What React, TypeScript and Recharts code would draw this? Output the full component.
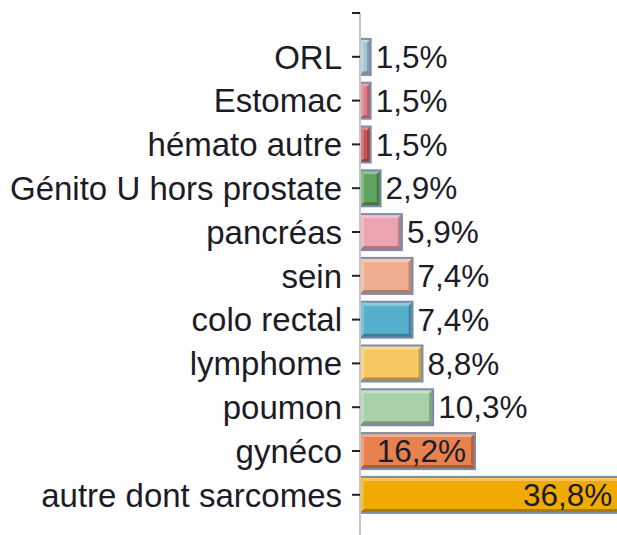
import React from 'react';
import { BarChart, Bar, XAxis, YAxis, Cell, LabelList } from 'recharts';

const categories = [
  'ORL',
  'Estomac',
  'hémato autre',
  'Génito U hors prostate',
  'pancréas',
  'sein',
  'colo rectal',
  'lymphome',
  'poumon',
  'gynéco',
  'autre dont sarcomes',
];
const shares = [1.5, 1.5, 1.5, 2.9, 5.9, 7.4, 7.4, 8.8, 10.3, 16.2, 36.8];
const barColors = [
  '#a3c6d6',
  '#e07c84',
  '#c95454',
  '#5ea35e',
  '#eca4b0',
  '#efae91',
  '#56afcc',
  '#f6c862',
  '#a9d1a9',
  '#e9814f',
  '#f0aa00',
];

// empty first row: the axis carries a tick above ORL
const data = [
  { name: '', value: null as number | null },
  ...categories.map((name, i) => ({ name, value: shares[i] })),
];

const FONT = '"Liberation Sans", Arial, sans-serif';

function BevelBar(props: any) {
  const { x, y, width, height, fill } = props;
  if (!width || width <= 0 || !height) return null;
  const b = Math.min(4, width / 3);
  return (
    <g>
      <rect x={x} y={y} width={width} height={height} fill={fill} />
      <polygon
        points={`${x},${y} ${x + width},${y} ${x + width - b},${y + b} ${x + b},${y + b}`}
        fill="#fff"
        fillOpacity={0.35}
      />
      <polygon
        points={`${x},${y} ${x + b},${y + b} ${x + b},${y + height - b} ${x},${y + height}`}
        fill="#fff"
        fillOpacity={0.25}
      />
      <polygon
        points={`${x},${y + height} ${x + b},${y + height - b} ${x + width - b},${y + height - b} ${x + width},${y + height}`}
        fill="#000"
        fillOpacity={0.28}
      />
      <polygon
        points={`${x + width},${y} ${x + width},${y + height} ${x + width - b},${y + height - b} ${x + width - b},${y + b}`}
        fill="#000"
        fillOpacity={0.22}
      />
      <rect x={x} y={y} width={width} height={height} fill="none" stroke="#7d8ca8" strokeWidth={2} />
    </g>
  );
}

function ValueLabel(props: any) {
  const { x, y, width, height, value } = props;
  if (value == null) return null;
  const inside = value >= 15;
  const text = value.toFixed(1).replace('.', ',') + '%';
  return (
    <text
      x={inside ? x + width - 9 : x + width + 5}
      y={y + height / 2}
      textAnchor={inside ? 'end' : 'start'}
      dominantBaseline="central"
      fontFamily={FONT}
      fontSize={31.5}
      fill="#1c1c28"
    >
      {text}
    </text>
  );
}

export default function App() {
  return (
    <div style={{ width: 617, height: 535, overflow: 'hidden', background: '#fff' }}>
      <style>{`body{margin:0}`}</style>
      <BarChart
        width={644}
        height={535}
        data={data}
        layout="vertical"
        margin={{ top: 13, right: 0, bottom: 0, left: 0 }}
      >
        <XAxis type="number" domain={[0, 40]} hide />
        <YAxis
          type="category"
          dataKey="name"
          width={360}
          interval={0}
          padding={{ top: -21.9, bottom: 18.3 }}
          tickSize={8}
          tickMargin={10}
          axisLine={{ stroke: '#c6c6c6', strokeWidth: 2 }}
          tickLine={{ stroke: '#222', strokeWidth: 2 }}
          tick={{ fontSize: 33, fill: '#1c1c28', fontFamily: FONT }}
        />
        <Bar dataKey="value" barSize={36} shape={<BevelBar />} isAnimationActive={false}>
          {data.map((d, i) => (
            <Cell key={i} fill={i === 0 ? 'none' : barColors[i - 1]} />
          ))}
          <LabelList dataKey="value" content={<ValueLabel />} />
        </Bar>
      </BarChart>
    </div>
  );
}
